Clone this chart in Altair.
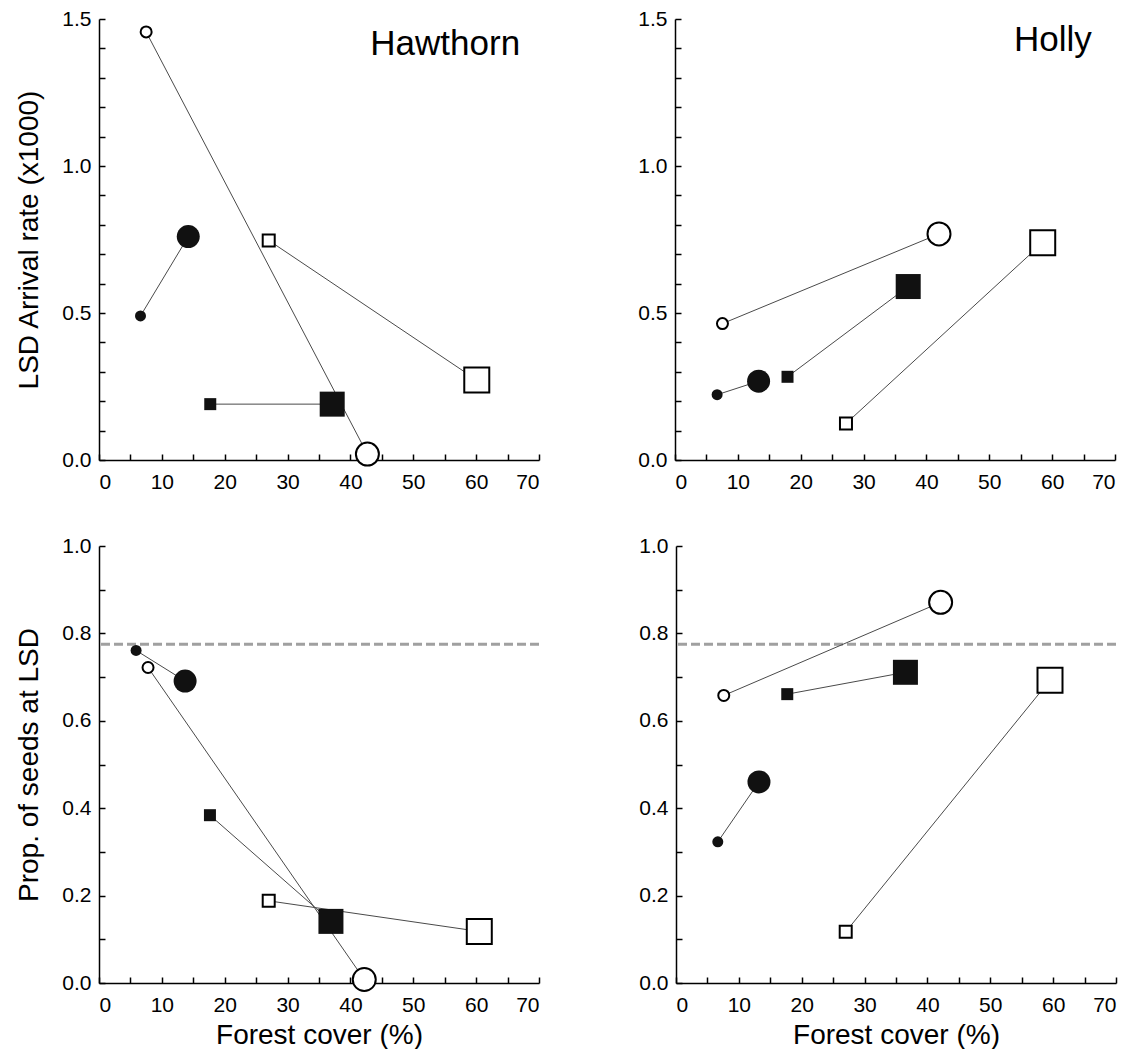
import altair as alt
import pandas as pd

FONT = "Liberation Sans"

# ---- data -------------------------------------------------------------------
series_names = ["filled circle", "open circle", "filled square", "open square"]
series_shapes = ["circle", "circle", "square", "square"]
series_filled = [True, False, True, False]
stages = ["small", "large"]

# forest cover (%) and value per series, ordered [small marker, large marker]
haw_rate_x = [[6.6, 14.2], [7.5, 42.7], [17.7, 37.1], [27.0, 60.1]]
haw_rate_y = [[0.49, 0.76], [1.456, 0.02], [0.19, 0.19], [0.747, 0.272]]
hol_rate_x = [[6.7, 13.3], [7.55, 42.0], [17.9, 37.1], [27.2, 58.5]]
hol_rate_y = [[0.222, 0.268], [0.464, 0.769], [0.283, 0.59], [0.124, 0.739]]
haw_prop_x = [[5.9, 13.7], [7.8, 42.2], [17.65, 36.9], [27.0, 60.5]]
haw_prop_y = [[0.761, 0.691], [0.722, 0.008], [0.384, 0.141], [0.188, 0.118]]
hol_prop_x = [[6.65, 13.2], [7.6, 42.1], [17.7, 36.5], [27.0, 59.5]]
hol_prop_y = [[0.323, 0.46], [0.658, 0.871], [0.661, 0.711], [0.117, 0.693]]
threshold = [0.775]

x_ticks = list(range(0, 71, 5))
rate_ticks = [round(0.1 * i, 1) for i in range(16)]
prop_ticks = [round(0.1 * i, 1) for i in range(11)]

panel_titles = ["Hawthorn", "Holly"]
# label anchor (right end, baseline) in data units of the upper panels
panel_title_x = [67.0, 66.3]
panel_title_y = [1.378, 1.391]
rate_title = "LSD Arrival rate (x1000)"
prop_title = "Prop. of seeds at LSD"
x_title = "Forest cover (%)"


def make_df(xs, ys):
    rows = []
    for i, name in enumerate(series_names):
        for j, st in enumerate(stages):
            rows.append({
                "series": name, "shape": series_shapes[i], "filled": series_filled[i],
                "stage": st, "order": j, "key": f"{series_shapes[i]}_{st}",
                "x": xs[i][j], "y": ys[i][j],
            })
    return pd.DataFrame(rows)


axis_common = dict(
    domainColor="black", domainWidth=1.5, tickColor="black", tickWidth=1.5,
    tickSize=alt.ExprRef(expr="-6"), labelFont=FONT, labelFontSize=21,
    labelColor="black", titleFont=FONT, titleFontSize=28,
    titleFontWeight="normal", titleColor="black", grid=False,
    labelOverlap=False,
)

size_domain = ["circle_small", "circle_large", "square_small", "square_large"]


def panel(xs, ys, kind, col, show_x_title, height):
    df = make_df(xs, ys)
    if kind == "rate":
        yticks, ydom = rate_ticks, [0, 1.5]
        lab = "round(datum.value*10) % 5 === 0 ? format(datum.value, '.1f') : ''"
        ytitle = rate_title
    else:
        yticks, ydom = prop_ticks, [0, 1.0]
        lab = "round(datum.value*10) % 2 === 0 ? format(datum.value, '.1f') : ''"
        ytitle = prop_title

    xaxis = alt.Axis(values=x_ticks,
                     labelExpr="datum.value % 10 === 0 ? datum.label : ''",
                     title=x_title if show_x_title else None,
                     labelPadding=17, titlePadding=6, **axis_common)
    yaxis = alt.Axis(values=yticks, labelExpr=lab,
                     title=ytitle if col == 0 else None,
                     labelPadding=14, titlePadding=18, **axis_common)

    X = alt.X("x:Q", scale=alt.Scale(domain=[0, 70], nice=False, zero=False), axis=xaxis)
    Y = alt.Y("y:Q", scale=alt.Scale(domain=ydom, nice=False, zero=False), axis=yaxis)

    shape = alt.Shape("shape:N", legend=None,
                      scale=alt.Scale(domain=["circle", "square"], range=["circle", "square"]))
    size_filled = alt.Size("key:N", legend=None,
                           scale=alt.Scale(type="ordinal", domain=size_domain,
                                           range=[180, 756, 196, 729]))
    size_open = alt.Size("key:N", legend=None,
                         scale=alt.Scale(type="ordinal", domain=size_domain,
                                         range=[121, 529, 144, 625]))

    base = alt.Chart(df)
    lines = base.mark_line(color="#4a4a4a", strokeWidth=1).encode(
        x=X, y=Y, detail="series:N", order="order:Q")
    open_pts = base.transform_filter("!datum.filled").mark_point(
        fill="white", fillOpacity=1, stroke="black", strokeWidth=2, opacity=1
    ).encode(x=X, y=Y, shape=shape, size=size_open)
    filled_pts = base.transform_filter("datum.filled").mark_point(
        filled=True, fill="#111111", stroke="#111111", strokeWidth=0, opacity=1
    ).encode(x=X, y=Y, shape=shape, size=size_filled)

    layers = []
    if kind == "prop":
        rule = alt.Chart(pd.DataFrame({"y": threshold})).mark_rule(
            color="#a0a0a0", strokeWidth=3, strokeDash=[9, 4]
        ).encode(y=Y)
        layers.append(rule)
    layers += [lines, open_pts, filled_pts]
    if kind == "rate":
        label = alt.Chart(pd.DataFrame({
            "x": [panel_title_x[col]], "y": [panel_title_y[col]], "t": [panel_titles[col]]
        })).mark_text(font=FONT, fontSize=35, color="black", align="right",
                      baseline="alphabetic").encode(x=X, y=Y, text="t:N")
        layers.append(label)

    return alt.layer(*layers).properties(width=440, height=height)


top = alt.hconcat(
    panel(haw_rate_x, haw_rate_y, "rate", 0, False, 441),
    panel(hol_rate_x, hol_rate_y, "rate", 1, False, 441),
    spacing=97,
)
bottom = alt.hconcat(
    panel(haw_prop_x, haw_prop_y, "prop", 0, True, 437),
    panel(hol_prop_x, hol_prop_y, "prop", 1, True, 437),
    spacing=97,
)

chart = alt.vconcat(top, bottom, spacing=43).properties(
    padding={"left": 7, "top": 0, "right": 0, "bottom": 0},
    background="white",
).configure_view(stroke=None).configure_axis(labelOverlap=False, labelBound=False)

chart.save("out.html", embed_options={"renderer": "svg", "actions": False})
